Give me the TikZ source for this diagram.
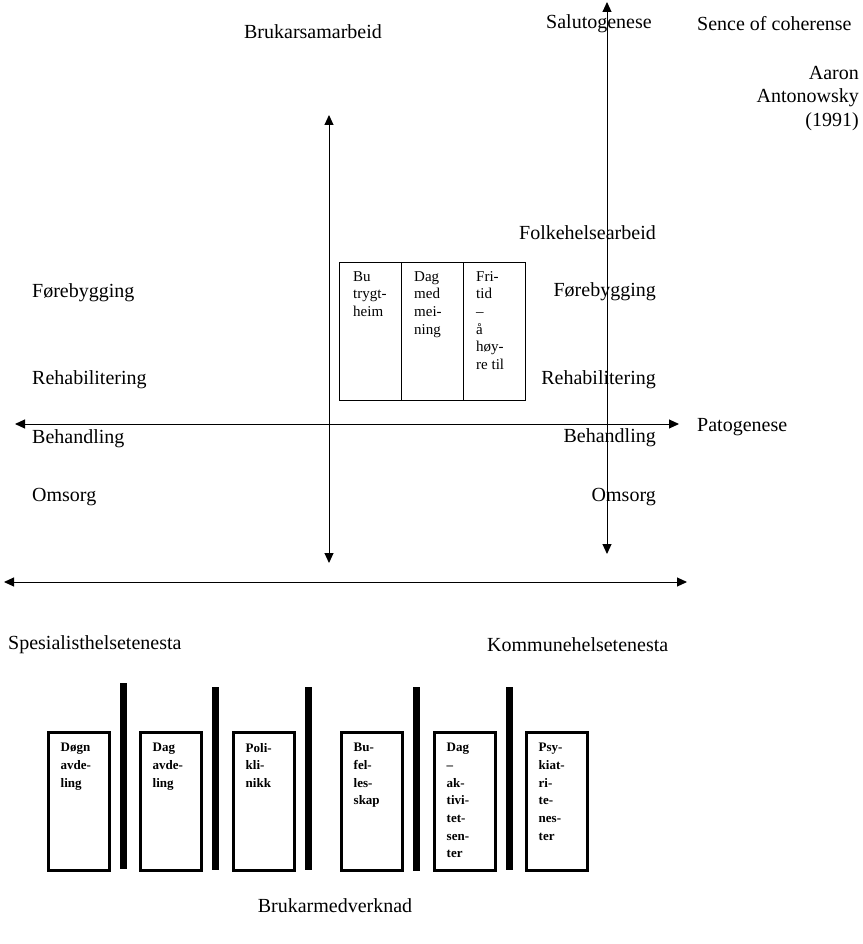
\documentclass[tikz,border=0pt]{standalone}
\usepackage{fontspec}
\setmainfont{Liberation Serif}
\usetikzlibrary{arrows.meta,calc}
\begin{document}
\begin{tikzpicture}[x=1pt,y=-1pt,
  lbl/.style={inner sep=0pt, font=\fontsize{20}{24}\selectfont},
  axis/.style={line width=1pt, {Triangle[length=10pt,width=9pt]}-{Triangle[length=10pt,width=9pt]}},
  col/.style={draw, line width=1pt, minimum width=62pt, minimum height=138pt, anchor=north west, inner sep=0pt},
  coltext/.style={inner sep=0pt, anchor=north west, align=left, font=\fontsize{15}{17.7}\selectfont},
  unitbox/.style={draw, line width=3pt, minimum width=61pt, minimum height=138pt, anchor=north west, inner sep=0pt},
  unittext/.style={inner sep=0pt, anchor=north west, align=left, font=\fontsize{13}{17.7}\selectfont\bfseries},
  bar/.style={fill=black, draw=none, inner sep=0pt, minimum width=7pt, anchor=north west}
]
\useasboundingbox (0,0) rectangle (862,944);

% axes coordinates
\coordinate (vLt) at (329,115);
\coordinate (vLb) at (329,563);
\coordinate (vRt) at (607,2);
\coordinate (vRb) at (607,554);
\coordinate (hMl) at (15,424);
\coordinate (hMr) at (679,424);
\coordinate (hBl) at (4,582);
\coordinate (hBr) at (687,582);

\draw[axis] (vLb) -- (vLt);
\draw[axis] (vRb) -- (vRt);
\draw[axis] (hMl) -- (hMr);
\draw[axis] (hBl) -- (hBr);

% top labels
\node[lbl] (bruk) at (313,32) {Brukarsamarbeid};
\node[lbl, anchor=west] (salu) at (546,24) {Salutogenese};
\node[lbl, anchor=west] (sence) at (697,24) {Sence of coherense};
\node[lbl, anchor=north east, align=right, font=\fontsize{20}{23.5}\selectfont] (aaron) at (859,66) {Aaron\\Antonowsky\\(1991)};

% left labels
\node[lbl, anchor=west] (lfor) at (32,293) {Førebygging};
\node[lbl, anchor=west] (lreh) at (32,380) {Rehabilitering};
\node[lbl, anchor=west] (lbeh) at (32,439) {Behandling};
\node[lbl, anchor=west] (loms) at (32,497) {Omsorg};

% right labels
\node[lbl, anchor=east] (rfolk) at (656,233) {Folkehelsearbeid};
\node[lbl, anchor=east] (rfor) at (656,292) {Førebygging};
\node[lbl, anchor=east] (rreh) at (656,380) {Rehabilitering};
\node[lbl, anchor=east] (rbeh) at (656,438) {Behandling};
\node[lbl, anchor=east] (roms) at (656,497) {Omsorg};
\node[lbl, anchor=west] (pato) at (697,427) {Patogenese};

% middle box
\node[col] (c1) at (339,262) {};
\node[col] (c2) at (401,262) {};
\node[col] (c3) at (463,262) {};
\node[coltext] (t1) at ($(c1.north west)+(14,9)$) {Bu\\trygt-\\heim};
\node[coltext] (t2) at ($(c2.north west)+(13,9)$) {Dag\\med\\mei-\\ning};
\node[coltext] (t3) at ($(c3.north west)+(13,9)$) {Fri-\\tid\\–\\å\\høy-\\re til};

% bottom labels
\node[lbl, anchor=west] (spes) at (8,645) {Spesialisthelsetenesta};
\node[lbl, anchor=west] (komm) at (487,645) {Kommunehelsetenesta};
\node[lbl] (bmed) at (335,906) {Brukarmedverknad};

% bottom units
\node[unitbox] (u1) at (46.5,730.5) {};
\node[unitbox] (u2) at (138.5,730.5) {};
\node[unitbox] (u3) at (231.5,730.5) {};
\node[unitbox] (u4) at (339.5,730.5) {};
\node[unitbox] (u5) at (432.5,730.5) {};
\node[unitbox] (u6) at (524.5,730.5) {};
\node[unittext] at ($(u1.north west)+(14,12.5)$) {Døgn\\avde-\\ling};
\node[unittext] at ($(u2.north west)+(14,12.5)$) {Dag\\avde-\\ling};
\node[unittext] at ($(u3.north west)+(14,12.5)$) {Poli-\\kli-\\nikk};
\node[unittext] at ($(u4.north west)+(14,12.5)$) {Bu-\\fel-\\les-\\skap};
\node[unittext] at ($(u5.north west)+(14,12.5)$) {Dag\\–\\ak-\\tivi-\\tet-\\sen-\\ter};
\node[unittext] at ($(u6.north west)+(14,12.5)$) {Psy-\\kiat-\\ri-\\te-\\nes-\\ter};

% separators
\node[bar, minimum height=186pt] (s1) at (120,683) {};
\node[bar, minimum height=183pt] (s2) at (212,687) {};
\node[bar, minimum height=183pt] (s3) at (305,687) {};
\node[bar, minimum height=184pt] (s4) at (413,687) {};
\node[bar, minimum height=183pt] (s5) at (506,687) {};
\end{tikzpicture}
\end{document}
